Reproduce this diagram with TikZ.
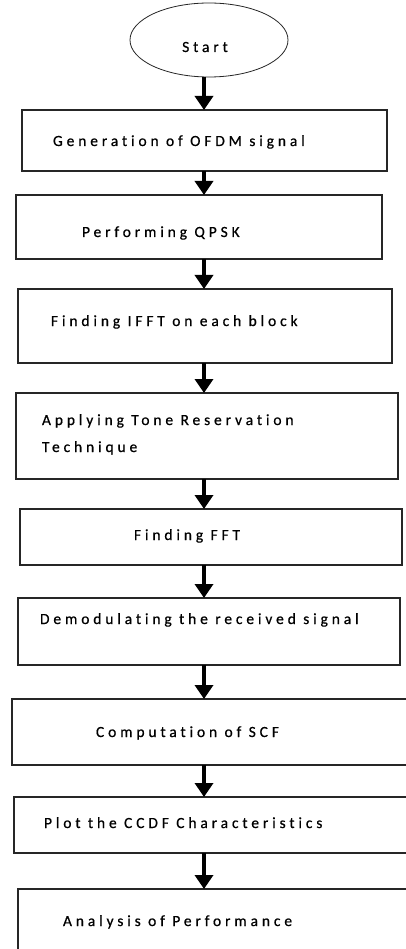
\documentclass[tikz,border=0pt]{standalone}
\usepackage{fontspec}
\setmainfont{Carlito}[LetterSpace=25, Ligatures=NoCommon, FakeBold=0.6]
\usetikzlibrary{arrows.meta,shapes.geometric}

\begin{document}
\begin{tikzpicture}[x=1pt,y=-1pt,
  every node/.style = {font=\fontsize{15.5}{18}\selectfont,
    inner sep=0pt, outer sep=0pt},
  box/.style = {draw=black!85, line width=1.3pt, anchor=north west},
  txt/.style = {anchor=base west},
  flow/.style = {line width=4.5pt, -{Triangle[width=18pt,length=14pt]}}]
  \fill[white] (0,0) rectangle (406,949);
  \useasboundingbox (0,0) rectangle (406,949);
  \clip (0,0) rectangle (406,949);
  \coordinate (axis) at (204,0);

  \node[ellipse, draw=black!85, line width=0.8pt,
    minimum width=158pt, minimum height=74pt] (start) at (209,40) {};
  \node[anchor=base] (tstart) at (205,52) {Start};

  \node[box, minimum width=365pt, minimum height=61pt] (b1) at (22,110) {};
  \node[box, minimum width=366pt, minimum height=64pt] (b2) at (16,195) {};
  \node[box, minimum width=374pt, minimum height=74pt] (b3) at (18,289) {};
  \node[box, minimum width=382pt, minimum height=86pt] (b4) at (16,393) {};
  \node[box, minimum width=382pt, minimum height=56pt] (b5) at (20,509) {};
  \node[box, minimum width=382pt, minimum height=67pt] (b6) at (18,598) {};
  \node[box, minimum width=400pt, minimum height=66pt] (b7) at (12,699) {};
  \node[box, minimum width=400pt, minimum height=56pt] (b8) at (14,797) {};
  \node[box, minimum width=400pt, minimum height=80pt] (b9) at (18,889) {};

  % texts of the steps
  \node[txt] (t1) at (53,146) {Generation of OFDM signal};
  \node[txt] (t2) at (82,237) {Performing QPSK};
  \node[txt] (t3) at (51,326) {Finding IFFT on each block};
  \node[txt] (t4) at (42,425) {Applying Tone Reservation};
  \node[txt] (t4b) at (42,452) {Technique};
  \node[txt] (t5) at (134,540) {Finding FFT};
  \node[txt] (t6) at (40,624) {Demodulating the received signal};
  \node[txt] (t7) at (96,737) {Computation of SCF};
  \node[txt] (t8) at (44,828) {Plot the CCDF Characteristics};
  \node[txt] (t9) at (63,926) {Analysis of Performance};

  \draw[flow] (start.south -| axis) -- (b1.north -| axis);
  \foreach \a/\b in {b1/b2,b2/b3,b3/b4,b4/b5,b5/b6,b6/b7,b7/b8,b8/b9}
    \draw[flow] (\a.south -| axis) -- (\b.north -| axis);
\end{tikzpicture}
\end{document}
